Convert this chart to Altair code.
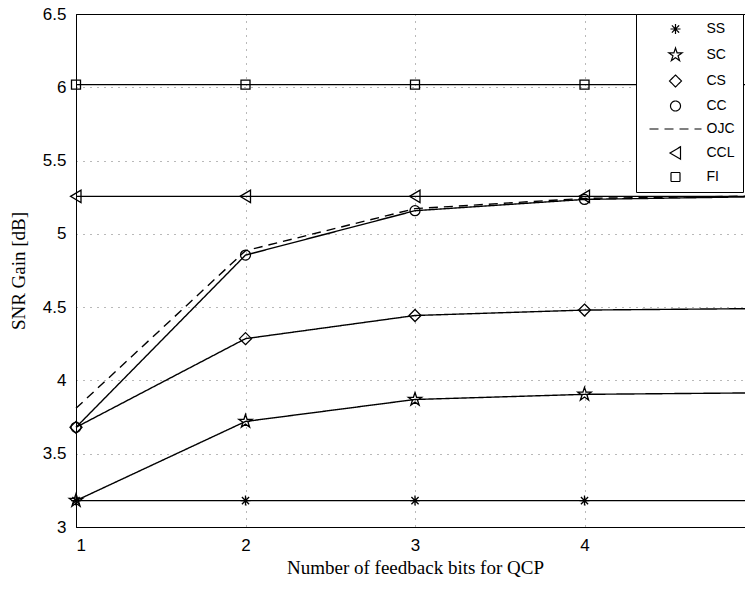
import altair as alt
import pandas as pd

# ---- data ----
bits = [1, 2, 3, 4, 5]
series_names = ["SS", "SC", "CS", "CC", "OJC", "CCL", "FI"]
ss = [3.18, 3.18, 3.18, 3.18, 3.18]
sc = [3.18, 3.72, 3.87, 3.905, 3.915]
cs = [3.68, 4.285, 4.443, 4.48, 4.49]
cc = [3.68, 4.855, 5.158, 5.235, 5.253]
ojc = [3.81, 4.885, 5.172, 5.242, 5.258]
ccl = [5.256, 5.256, 5.256, 5.256, 5.256]
fi = [6.018, 6.018, 6.018, 6.018, 6.018]
x_ticks = [1, 2, 3, 4, 5]
y_ticks = [3, 3.5, 4, 4.5, 5, 5.5, 6, 6.5]

values = {"SS": ss, "SC": sc, "CS": cs, "CC": cc, "OJC": ojc, "CCL": ccl, "FI": fi}
rows = []
for name in series_names:
    for b, v in zip(bits, values[name]):
        rows.append({"bits": b, "gain": v, "series": name})
df = pd.DataFrame(rows)

# ---- marker shapes (styles) ----
star = ("M0,-1.4L0.314,-0.433L1.331,-0.433L0.508,0.165L0.823,1.133L0,0.535"
        "L-0.823,1.133L-0.508,0.165L-1.331,-0.433L-0.314,-0.433Z")
shapes = [
    "M-1,0L1,0M0,-1L0,1M-0.72,-0.72L0.72,0.72M-0.72,0.72L0.72,-0.72",
    star,
    "M0,-1.2L1.2,0L0,1.2L-1.2,0Z",
    "M1,0A1,1 0 1,1 -1,0A1,1 0 1,1 1,0Z",
    "M-5.2,0L5.2,0",
    "M-1.1,0L1.0,-1.25L1.0,1.25Z",
    "M-0.9,-0.9L0.9,-0.9L0.9,0.9L-0.9,0.9Z",
]
dashes = [[1, 0], [1, 0], [1, 0], [1, 0], [9, 6], [1, 0], [1, 0]]

W, H = 678, 513

x_enc = alt.X("bits:Q", scale=alt.Scale(domain=[1, 5], nice=False, zero=False),
              axis=alt.Axis(values=x_ticks, format="d",
                            title="Number of feedback bits for QCP",
                            titleY=46, titleBaseline="alphabetic"))
y_enc = alt.Y("gain:Q", scale=alt.Scale(domain=[3, 6.5], nice=False, zero=False),
              axis=alt.Axis(values=y_ticks, format="~g", title="SNR Gain [dB]",
                            titleX=-52, titleY=H / 2, titleBaseline="alphabetic",
                            titleAngle=-90, titleAlign="center"))

dash_scale = alt.Scale(domain=series_names, range=dashes)
shape_scale = alt.Scale(domain=series_names, range=shapes)

lines = alt.Chart(df).mark_line(color="black", strokeWidth=1.4).encode(
    x=x_enc, y=y_enc,
    detail="series:N",
    strokeDash=alt.StrokeDash("series:N", scale=dash_scale, title=None),
)

points = alt.Chart(df).transform_filter(alt.datum.series != "OJC").mark_point(
    filled=False, color="black", strokeWidth=1.3, size=100, opacity=1
).encode(
    x=x_enc, y=y_enc,
    shape=alt.Shape("series:N", scale=shape_scale, title=None),
)

chart = alt.layer(lines, points).properties(
    width=W, height=H,
    autosize=alt.AutoSizeParams(type="none"),
    padding={"left": 68, "top": 6, "right": -9, "bottom": 50},
).configure_view(
    stroke="black", strokeWidth=1
).configure_axis(
    labelFont="Liberation Sans", labelFontSize=17, labelColor="black",
    titleFont="Liberation Serif", titleFontSize=19, titleColor="black",
    titleFontWeight="normal",
    domainColor="black", domainWidth=1,
    ticks=False, labelPadding=10,
    grid=True, gridColor="black", gridDash=[1, 6], gridWidth=1, gridOpacity=0.55,
).configure_legend(
    orient="none", legendX=560, legendY=0,
    strokeColor="black", fillColor="white", cornerRadius=0,
    padding=8, rowPadding=8, symbolOffset=24.5, labelOffset=24,
    labelFont="Liberation Sans", labelFontSize=14, labelColor="black",
    symbolStrokeColor="black", symbolFillColor="transparent",
    symbolStrokeWidth=1.2, symbolSize=100, symbolOpacity=1,
)

chart.save("out.html", embed_options={"renderer": "svg", "actions": False})
